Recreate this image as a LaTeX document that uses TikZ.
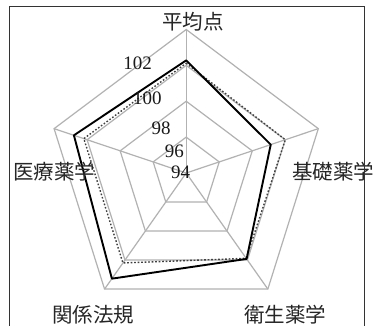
\documentclass[tikz,border=0pt]{standalone}
\usepackage{fontspec}
\setmainfont{Liberation Serif}
\newfontfamily\jpfont{Noto Sans CJK JP}
\begin{document}
\begin{tikzpicture}[x=1pt,y=-1pt,
  gridline/.style={draw=black!30, line width=1.2pt},
  solidser/.style={draw=black, line width=1.9pt, line join=round},
  dashser/.style={draw=black!75, line width=1.4pt, dash pattern=on 1.6pt off 1.9pt, line join=round},
  axislab/.style={font=\jpfont\fontsize{20.5}{22}\selectfont, inner sep=0pt, text=black!85},
  numlab/.style={font=\fontsize{19}{21}\selectfont, inner sep=0pt, text height=0.66em, text depth=0pt, text=black!90},
  frame/.style={draw=black!80, line width=0.9pt}]
\useasboundingbox (0,0) rectangle (388,326);
\fill[white] (0,0) rectangle (388,326);
% chart
\begin{scope}[shift={(186.2,173)}, x=138.9pt, y=143.5pt]
  \coordinate (c) at (0,0);
  \foreach \a [count=\i] in {90,18,-54,-126,162} {
    \coordinate (v\i) at (\a:1);
  }
  \foreach \r in {0.25,0.5,0.75,1} {
    \draw[gridline] (90:\r) -- (18:\r) -- (-54:\r) -- (-126:\r) -- (162:\r) -- cycle;
  }
  \foreach \i in {1,...,5} { \draw[gridline] (c) -- (v\i); }
  % dotted series
  \coordinate (d1) at (90:0.765);
  \coordinate (d2) at (18:0.75);
  \coordinate (d3) at (-54:0.735);
  \coordinate (d4) at (-126:0.775);
  \coordinate (d5) at (162:0.775);
  \draw[dashser] (d1) -- (d2) -- (d3) -- (d4) -- (d5) -- cycle;
  % solid series
  \coordinate (s1) at (90:0.785);
  \coordinate (s2) at (18:0.64);
  \coordinate (s3) at (-54:0.74);
  \coordinate (s4) at (-126:0.91);
  \coordinate (s5) at (162:0.85);
  \draw[solidser] (s1) -- (s2) -- (s3) -- (s4) -- (s5) -- cycle;
\end{scope}
% scale labels
\node[numlab] (n102) at (137.7,66) {102};
\node[numlab] (n100) at (147.3,101.7) {100};
\node[numlab] (n98) at (161,131.7) {98};
\node[numlab] (n96) at (174.3,154) {96};
\node[numlab] (n94) at (180.7,175) {94};
% axis labels
\node[axislab] (a1) at (193,22) {平均点};
\node[axislab] (a2) at (333.3,171.7) {基礎薬学};
\node[axislab] (a3) at (285,315) {衛生薬学};
\node[axislab] (a4) at (93.3,315) {関係法規};
\node[axislab] (a5) at (54.2,172) {医療薬学};
% frame
\coordinate (f1) at (9.3,330);
\coordinate (f2) at (9.3,6.7);
\coordinate (f3) at (364.3,6.7);
\coordinate (f4) at (364.3,330);
\draw[frame] (f1) -- (f2) -- (f3) -- (f4);
\end{tikzpicture}
\end{document}
